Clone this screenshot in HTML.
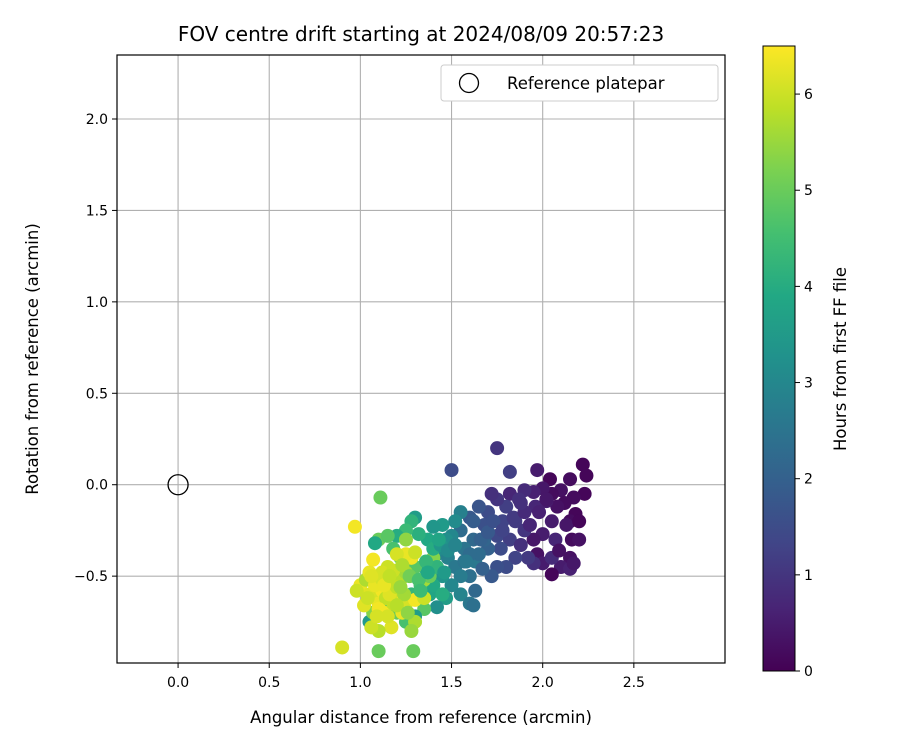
<!DOCTYPE html>
<html><head><meta charset="utf-8"><style>
body{margin:0;background:#fff}
svg{display:block;font-family:"DejaVu Sans","Liberation Sans",sans-serif}
</style></head><body>
<svg id="chart" width="900" height="750" viewBox="0 0 900 750">
<defs>
<linearGradient id="vir" x1="0" y1="1" x2="0" y2="0">
<stop offset="0" stop-color="#440154"/><stop offset="0.1" stop-color="#482475"/><stop offset="0.2" stop-color="#414487"/><stop offset="0.3" stop-color="#355f8d"/><stop offset="0.4" stop-color="#2a788e"/><stop offset="0.5" stop-color="#21918c"/><stop offset="0.6" stop-color="#22a884"/><stop offset="0.7" stop-color="#44bf70"/><stop offset="0.8" stop-color="#7ad151"/><stop offset="0.9" stop-color="#bddf26"/><stop offset="1" stop-color="#fde725"/>
</linearGradient>
<clipPath id="clip"><rect x="117" y="55" width="608" height="608"/></clipPath>
</defs>
<text x="421" y="41" font-size="20" text-anchor="middle">FOV centre drift starting at 2024/08/09 20:57:23</text>
<g id="grid"></g>
<g id="points" clip-path="url(#clip)"></g>
<circle id="refc" r="10" fill="none" stroke="#000" stroke-width="1.3"/>
<rect x="117" y="55" width="608" height="608" fill="none" stroke="#000" stroke-width="1.2"/>
<g id="ticks"></g>
<text x="421" y="723" font-size="16.5" text-anchor="middle">Angular distance from reference (arcmin)</text>
<text transform="translate(38,359) rotate(-90)" font-size="16.5" text-anchor="middle">Rotation from reference (arcmin)</text>
<g>
<rect x="441" y="65" width="277" height="36" rx="3" fill="#fff" stroke="#ccc"/>
<circle cx="469" cy="83" r="9.5" fill="none" stroke="#000" stroke-width="1.3"/>
<text x="507" y="89" font-size="16.5">Reference platepar</text>
</g>
<rect x="763" y="46" width="32" height="625" fill="url(#vir)" stroke="#000" stroke-width="1"/>
<g id="cbticks"></g>
<text transform="translate(846,359) rotate(-90)" font-size="16.5" text-anchor="middle">Hours from first FF file</text>
</svg>
<script>
const xTicks=[0,0.5,1,1.5,2,2.5];
const yTicks=[-0.5,0,0.5,1,1.5,2];
const cTicks=[0,1,2,3,4,5,6];
const xs=[2.22,2.24,2.15,2.04,1.97,2.23,2.17,2.1,2.05,2.0,1.95,1.9,2.12,2.18,2.08,2.02,1.96,2.15,2.13,2.2,2.05,1.98,2.0,1.95,2.07,2.16,2.2,2.15,2.1,2.15,1.97,2.0,2.05,1.95,2.05,2.17,1.82,1.87,1.8,1.75,1.72,1.75,1.82,1.5,1.85,1.9,1.78,1.7,1.65,1.6,1.68,1.75,1.82,1.88,1.92,1.85,1.8,1.75,1.72,1.77,1.7,1.62,1.55,1.57,1.63,1.6,1.67,1.55,1.52,1.5,1.47,1.45,1.4,1.42,1.48,1.52,1.55,1.5,1.45,1.55,1.6,1.62,1.47,1.42,1.38,1.4,1.35,1.37,1.32,1.3,1.28,1.25,1.2,1.18,1.22,1.3,1.33,1.28,1.35,1.3,1.25,1.2,1.15,1.05,1.07,1.1,1.08,1.11,1.1,1.29,0.9,0.97,1.07,1.0,1.05,1.1,1.08,1.12,1.15,1.18,1.2,1.22,1.25,1.28,1.25,1.2,1.3,1.15,1.1,1.13,1.17,1.1,1.06,1.02,0.98,1.25,1.3,1.35,1.35,1.3,1.28,1.23,1.18,1.4,1.38,1.42,1.45,1.25,1.15,1.03,1.05,1.12,1.18,1.14,1.65,1.68,1.58,1.62,
1.08,1.12,1.16,1.2,1.24,1.04,1.1,1.15,1.2,1.26,1.06,1.13,1.18,1.23,1.09,1.16,1.22,1.27,1.32,1.36,1.4,1.33,1.37,1.44,1.48,1.52,1.57,1.6,1.66,1.7,1.73,1.78,1.84,1.9,1.93,1.88,2.02,2.09,1.63,1.58,1.46,1.43];
const ys=[0.11,0.05,0.03,0.03,0.08,-0.05,-0.07,-0.03,-0.05,-0.02,-0.04,-0.03,-0.1,-0.16,-0.12,-0.09,-0.12,-0.2,-0.22,-0.2,-0.2,-0.15,-0.27,-0.3,-0.3,-0.3,-0.3,-0.4,-0.45,-0.46,-0.38,-0.43,-0.4,-0.43,-0.49,-0.43,-0.05,-0.08,-0.12,-0.08,-0.05,0.2,0.07,0.08,-0.2,-0.25,-0.2,-0.15,-0.12,-0.18,-0.22,-0.28,-0.3,-0.33,-0.4,-0.4,-0.45,-0.45,-0.5,-0.35,-0.35,-0.3,-0.25,-0.35,-0.42,-0.5,-0.46,-0.15,-0.2,-0.28,-0.3,-0.22,-0.23,-0.38,-0.4,-0.45,-0.5,-0.55,-0.5,-0.6,-0.65,-0.66,-0.62,-0.67,-0.6,-0.55,-0.45,-0.3,-0.27,-0.18,-0.2,-0.25,-0.28,-0.35,-0.4,-0.45,-0.55,-0.6,-0.68,-0.72,-0.75,-0.7,-0.66,-0.75,-0.7,-0.3,-0.32,-0.07,-0.91,-0.91,-0.89,-0.23,-0.41,-0.55,-0.6,-0.5,-0.62,-0.58,-0.55,-0.5,-0.6,-0.52,-0.48,-0.4,-0.38,-0.38,-0.37,-0.45,-0.65,-0.7,-0.78,-0.8,-0.78,-0.66,-0.58,-0.65,-0.63,-0.52,-0.62,-0.75,-0.8,-0.7,-0.65,-0.4,-0.5,-0.45,-0.6,-0.3,-0.28,-0.52,-0.48,-0.48,-0.58,-0.62,-0.38,-0.3,-0.42,-0.2,
-0.55,-0.52,-0.6,-0.56,-0.6,-0.62,-0.68,-0.72,-0.66,-0.7,-0.5,-0.55,-0.47,-0.44,-0.72,-0.5,-0.56,-0.5,-0.52,-0.42,-0.35,-0.58,-0.48,-0.33,-0.36,-0.33,-0.42,-0.38,-0.3,-0.26,-0.2,-0.25,-0.18,-0.15,-0.22,-0.1,-0.08,-0.36,-0.58,-0.42,-0.48,-0.3];
const hrs=[0.1,0.1,0.2,0.1,0.5,0.1,0.2,0.3,0.2,0.4,0.6,0.8,0.2,0.1,0.3,0.5,0.7,0.2,0.4,0.1,0.5,0.6,0.5,0.4,0.7,0.2,0.3,0.3,0.5,0.6,0.3,0.5,0.8,0.9,0.1,0.4,0.7,0.9,1.2,1.0,0.9,1.0,1.2,1.5,1.1,1.0,1.3,1.5,1.7,1.8,1.6,1.4,1.2,0.9,1.1,1.3,1.5,1.6,1.8,1.5,2.0,2.2,2.3,2.5,2.6,2.4,2.0,2.8,3.1,3.0,3.2,3.5,3.4,3.1,2.8,2.6,2.7,3.0,3.3,2.9,2.6,2.4,3.6,3.2,3.8,3.9,3.7,3.9,4.1,3.6,4.2,4.4,4.0,4.6,5.2,4.8,4.5,4.3,4.8,3.6,4.6,5.0,4.4,3.5,5.3,5.0,3.9,5.0,5.0,5.0,6.1,6.4,6.4,6.3,6.2,6.0,6.1,6.4,5.9,6.2,6.3,5.8,5.6,6.4,6.3,6.1,6.0,6.0,6.3,6.4,6.2,5.8,6.0,6.2,6.0,6.1,6.4,5.6,6.0,5.7,5.5,6.3,5.9,5.3,5.0,4.2,4.0,5.4,4.8,5.7,6.3,6.1,6.0,5.9,2.3,2.1,2.7,1.9,
6.3,6.1,6.2,5.9,5.6,6.0,6.4,6.1,5.8,5.4,6.2,6.3,6.0,5.7,6.1,5.9,5.5,5.1,4.6,4.3,4.0,4.4,3.9,3.4,3.1,2.9,2.5,2.3,2.0,1.8,1.6,1.3,1.1,0.8,0.7,0.9,0.4,0.3,2.2,2.6,3.5,3.8];
const NS='http://www.w3.org/2000/svg';
const X0=117,X1=725,Y0=55,Y1=663,xmin=-0.335,xmax=3.0,ymin=-0.975,ymax=2.35,hmax=6.5;
const sx=v=>X0+(v-xmin)/(xmax-xmin)*(X1-X0);
const sy=v=>Y1-(v-ymin)/(ymax-ymin)*(Y1-Y0);
const sc=v=>671-v/hmax*625;
const stops=['#440154','#482475','#414487','#355f8d','#2a788e','#21918c','#22a884','#44bf70','#7ad151','#bddf26','#fde725'].map(h=>[1,3,5].map(i=>parseInt(h.substr(i,2),16)));
function vir(t){t=Math.max(0,Math.min(1,t))*10;const i=Math.min(9,Math.floor(t)),f=t-i;const a=stops[i],b=stops[i+1];return 'rgb('+a.map((c,k)=>Math.round(c+(b[k]-c)*f)).join(',')+')';}
function mk(tag,at,par){const e=document.createElementNS(NS,tag);for(const k in at)e.setAttribute(k,at[k]);par.appendChild(e);return e;}
const grid=document.getElementById('grid'),ticks=document.getElementById('ticks'),pts=document.getElementById('points'),cb=document.getElementById('cbticks');
xTicks.forEach(v=>{const x=sx(v);
 const g=mk('line',{x1:x,x2:x,y1:Y0,y2:Y1,stroke:'#b0b0b0','stroke-width':1.1},grid);
 mk('line',{x1:x,x2:x,y1:Y1,y2:Y1+5,stroke:'#000'},ticks);
 const t=mk('text',{x:x,y:Y1+24,'font-size':14,'text-anchor':'middle'},ticks);t.textContent=v.toFixed(1);
 });
yTicks.forEach(v=>{const y=sy(v);
 const g=mk('line',{x1:X0,x2:X1,y1:y,y2:y,stroke:'#b0b0b0','stroke-width':1.1},grid);
 mk('line',{x1:X0-5,x2:X0,y1:y,y2:y,stroke:'#000'},ticks);
 const t=mk('text',{x:X0-9,y:y+5,'font-size':14,'text-anchor':'end'},ticks);t.textContent=(v<0?'\u2212'+(-v).toFixed(1):v.toFixed(1));
 });
cTicks.forEach(v=>{const y=sc(v);
 mk('line',{x1:795,x2:800,y1:y,y2:y,stroke:'#000'},cb);
 const t=mk('text',{x:804,y:y+5,'font-size':14},cb);t.textContent=v;
 });
xs.forEach((v,i)=>{const c=mk('circle',{cx:sx(v),cy:sy(ys[i]),r:7,fill:vir(hrs[i]/hmax)},pts);
 
 });
const rc=document.getElementById('refc');rc.setAttribute('cx',sx(0));rc.setAttribute('cy',sy(0));
</script>
</body></html>
